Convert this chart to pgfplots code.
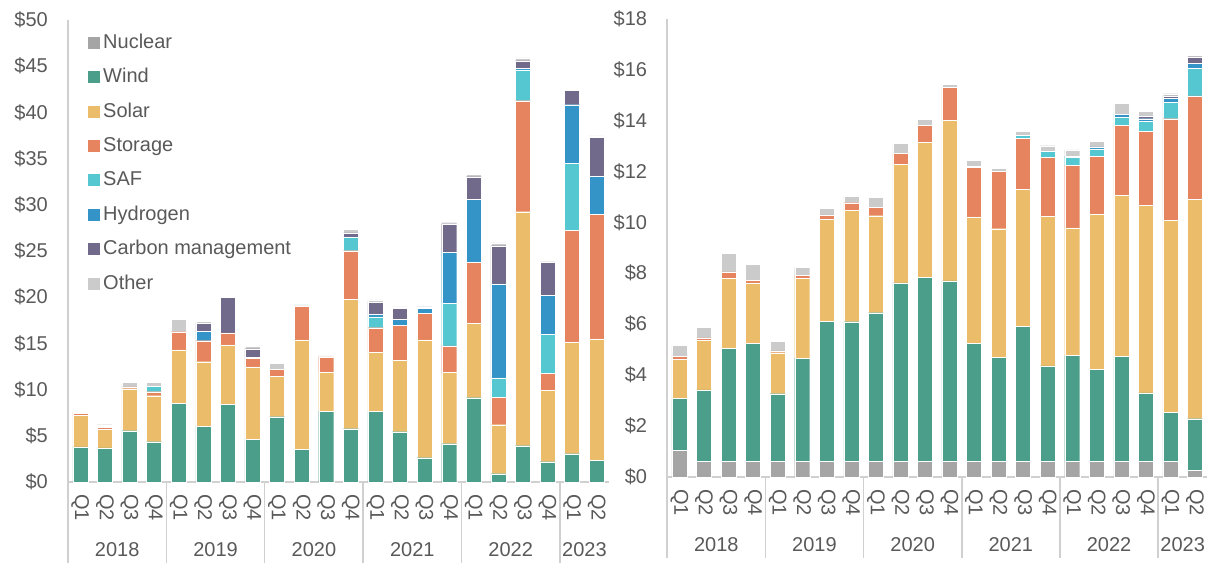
\documentclass[border=0pt]{standalone}
\usepackage{fontspec}
\setmainfont{Liberation Sans}
\usepackage{pgfplots}
\usepackage{pgfplotstable}
\pgfplotsset{compat=1.18}

\definecolor{cNuc}{HTML}{A5A5A5}
\definecolor{cWind}{HTML}{4B9E89}
\definecolor{cSolar}{HTML}{EBBC6A}
\definecolor{cStor}{HTML}{E5845F}
\definecolor{cSAF}{HTML}{55C7D1}
\definecolor{cHyd}{HTML}{3494C7}
\definecolor{cCarb}{HTML}{726A8A}
\definecolor{cOth}{HTML}{CBCBCB}
\definecolor{txt}{HTML}{595959}
\definecolor{axl}{HTML}{D0D0D0}

\pgfplotstableread{
x nuc wind solar stor saf hyd carb oth
0  0 3.80 3.40 0.25 0.00 0.00 0.00 0.10
1  0 3.70 2.00 0.20 0.10 0.00 0.00 0.20
2  0 5.55 4.55 0.20 0.00 0.00 0.00 0.50
3  0 4.36 4.98 0.43 0.55 0.00 0.00 0.45
4  0 8.55 5.74 1.98 0.00 0.00 0.00 1.37
5  0 6.06 6.96 2.27 0.00 1.01 0.87 0.25
6  0 8.44 6.39 1.30 0.00 0.00 3.86 0.00
7  0 4.65 7.80 0.90 0.00 0.15 0.93 0.22
8  0 7.07 4.40 0.73 0.00 0.00 0.00 0.65
9  0 3.57 11.80 3.68 0.11 0.00 0.00 0.00
10 0 7.68 4.22 1.63 0.00 0.00 0.00 0.11
11 0 5.77 14.03 5.23 1.45 0.05 0.42 0.40
12 0 7.68 6.35 2.67 1.16 0.29 1.33 0.22
13 0 5.44 7.73 3.79 0.00 0.64 1.23 0.11
14 0 2.63 12.74 2.89 0.00 0.54 0.14 0.05
15 0 4.15 7.75 2.82 4.65 5.49 3.09 0.11
16 0 9.12 8.05 6.61 0.00 6.82 2.44 0.29
17 0 0.90 5.30 2.97 2.09 10.17 4.14 0.30
18 0 3.93 25.32 12.02 3.32 0.21 0.80 0.29
19 0 2.20 7.72 1.84 4.22 4.22 3.61 0.05
20 0 3.06 12.06 12.12 7.25 6.34 1.56 0.00
21 0 2.35 13.13 13.49 0.00 4.11 4.22 0.15
}\leftdata

\pgfplotstableread{
x nuc wind solar stor saf hyd carb oth
0  1.05 2.03 1.55 0.11 0.00 0.00 0.00 0.42
1  0.62 2.80 1.95 0.09 0.00 0.00 0.00 0.41
2  0.62 4.44 2.75 0.24 0.00 0.00 0.00 0.74
3  0.62 4.62 2.38 0.10 0.00 0.00 0.00 0.62
4  0.62 2.65 1.61 0.07 0.00 0.00 0.00 0.37
5  0.62 4.05 3.14 0.12 0.00 0.00 0.00 0.30
6  0.62 5.49 4.02 0.16 0.00 0.00 0.00 0.25
7  0.62 5.48 4.38 0.29 0.00 0.00 0.00 0.25
8  0.62 5.83 3.81 0.34 0.00 0.00 0.00 0.38
9  0.62 7.00 4.67 0.42 0.00 0.00 0.00 0.38
10 0.62 7.23 5.29 0.68 0.00 0.00 0.00 0.22
11 0.62 7.08 6.30 1.31 0.00 0.00 0.00 0.11
12 0.62 4.62 4.97 1.96 0.03 0.00 0.00 0.23
13 0.62 4.07 5.06 2.26 0.00 0.00 0.00 0.10
14 0.62 5.30 5.38 2.01 0.11 0.00 0.00 0.15
15 0.62 3.74 5.88 2.32 0.23 0.00 0.00 0.22
16 0.62 4.15 5.01 2.47 0.31 0.04 0.00 0.25
17 0.62 3.62 6.07 2.27 0.30 0.08 0.00 0.22
18 0.62 4.13 6.31 2.74 0.33 0.10 0.02 0.42
19 0.62 2.68 7.38 2.89 0.40 0.10 0.09 0.20
20 0.62 1.91 7.54 4.00 0.65 0.14 0.11 0.08
21 0.26 2.03 8.62 4.06 1.08 0.19 0.26 0.06
}\rightdata

\tikzset{yearlab/.style={font=\fontsize{20}{24}\selectfont, text=txt, yshift=-68pt},
  sep/.style={axl, line width=1.5pt}}

\pgfplotsset{
  mystyle/.style={
    scale only axis,
    ybar stacked, bar width=15pt,
    xmin=-0.5, xmax=21.5, ymin=0,
    axis lines*=left,
    axis line style={axl, line width=1.5pt},
    major tick length=0pt,
    xtick={0,...,21},
    xticklabels={Q1,Q2,Q3,Q4,Q1,Q2,Q3,Q4,Q1,Q2,Q3,Q4,Q1,Q2,Q3,Q4,Q1,Q2,Q3,Q4,Q1,Q2},
    xticklabel style={rotate=-90, anchor=west, inner sep=0pt},
    xticklabel shift=12pt,
    yticklabel style={anchor=east, inner sep=0pt, xshift=-20pt},
    tick label style={font=\fontsize{20}{24}\selectfont, text=txt},
    clip=false,
    every axis plot/.append style={draw=white, line width=0.3pt},
    legend image code/.code={\path[##1,draw=none] (0pt,-6pt) rectangle (12pt,6pt);},
  },
}

\begin{document}
\begin{tikzpicture}
\path[use as bounding box] (0,0) rectangle (1209pt,563pt);

% ---------- left chart ----------
\begin{axis}[mystyle,
  at={(68pt,81pt)}, anchor=south west,
  width=541pt, height=462pt,
  ymax=50, ytick={0,5,...,50},
  yticklabels={\$0,\$5,\$10,\$15,\$20,\$25,\$30,\$35,\$40,\$45,\$50},
  legend style={at={(0.037,0.978)}, anchor=north west, draw=none, fill=none,
    inner sep=0pt, row sep=9.4pt,
    font=\fontsize{20}{24}\selectfont, text=txt,
    nodes={text height=15pt, text depth=4pt, inner sep=3pt}},
  legend cell align=left,
]
\addplot[fill=cNuc]   table[x=x,y=nuc]{\leftdata};
\addplot[fill=cWind]  table[x=x,y=wind]{\leftdata};
\addplot[fill=cSolar] table[x=x,y=solar]{\leftdata};
\addplot[fill=cStor]  table[x=x,y=stor]{\leftdata};
\addplot[fill=cSAF]   table[x=x,y=saf]{\leftdata};
\addplot[fill=cHyd]   table[x=x,y=hyd]{\leftdata};
\addplot[fill=cCarb]  table[x=x,y=carb]{\leftdata};
\addplot[fill=cOth]   table[x=x,y=oth]{\leftdata};
\legend{Nuclear,Wind,Solar,Storage,SAF,Hydrogen,Carbon management,Other}
\draw[sep] (axis cs:-0.5,0) -- ++(0pt,-81pt);
\draw[sep] (axis cs:3.5,0) -- ++(0pt,-81pt);
\draw[sep] (axis cs:7.5,0) -- ++(0pt,-81pt);
\draw[sep] (axis cs:11.5,0) -- ++(0pt,-81pt);
\draw[sep] (axis cs:15.5,0) -- ++(0pt,-81pt);
\draw[sep] (axis cs:19.5,0) -- ++(0pt,-81pt);
\node[yearlab] at (axis cs:1.5,0) {2018};
\node[yearlab] at (axis cs:5.5,0) {2019};
\node[yearlab] at (axis cs:9.5,0) {2020};
\node[yearlab] at (axis cs:13.5,0) {2021};
\node[yearlab] at (axis cs:17.5,0) {2022};
\node[yearlab] at (axis cs:20.5,0) {2023};
\end{axis}

% ---------- right chart ----------
\begin{axis}[mystyle,
  at={(667.2pt,86pt)}, anchor=south west,
  width=540pt, height=458.4pt,
  ymax=18, ytick={0,2,...,18},
  yticklabels={\$0,\$2,\$4,\$6,\$8,\$10,\$12,\$14,\$16,\$18},
]
\addplot[fill=cNuc]   table[x=x,y=nuc]{\rightdata};
\addplot[fill=cWind]  table[x=x,y=wind]{\rightdata};
\addplot[fill=cSolar] table[x=x,y=solar]{\rightdata};
\addplot[fill=cStor]  table[x=x,y=stor]{\rightdata};
\addplot[fill=cSAF]   table[x=x,y=saf]{\rightdata};
\addplot[fill=cHyd]   table[x=x,y=hyd]{\rightdata};
\addplot[fill=cCarb]  table[x=x,y=carb]{\rightdata};
\addplot[fill=cOth]   table[x=x,y=oth]{\rightdata};
\draw[sep] (axis cs:-0.5,0) -- ++(0pt,-81pt);
\draw[sep] (axis cs:3.5,0) -- ++(0pt,-81pt);
\draw[sep] (axis cs:7.5,0) -- ++(0pt,-81pt);
\draw[sep] (axis cs:11.5,0) -- ++(0pt,-81pt);
\draw[sep] (axis cs:15.5,0) -- ++(0pt,-81pt);
\draw[sep] (axis cs:19.5,0) -- ++(0pt,-81pt);
\node[yearlab] at (axis cs:1.5,0) {2018};
\node[yearlab] at (axis cs:5.5,0) {2019};
\node[yearlab] at (axis cs:9.5,0) {2020};
\node[yearlab] at (axis cs:13.5,0) {2021};
\node[yearlab] at (axis cs:17.5,0) {2022};
\node[yearlab] at (axis cs:20.5,0) {2023};
\end{axis}
\end{tikzpicture}
\end{document}
